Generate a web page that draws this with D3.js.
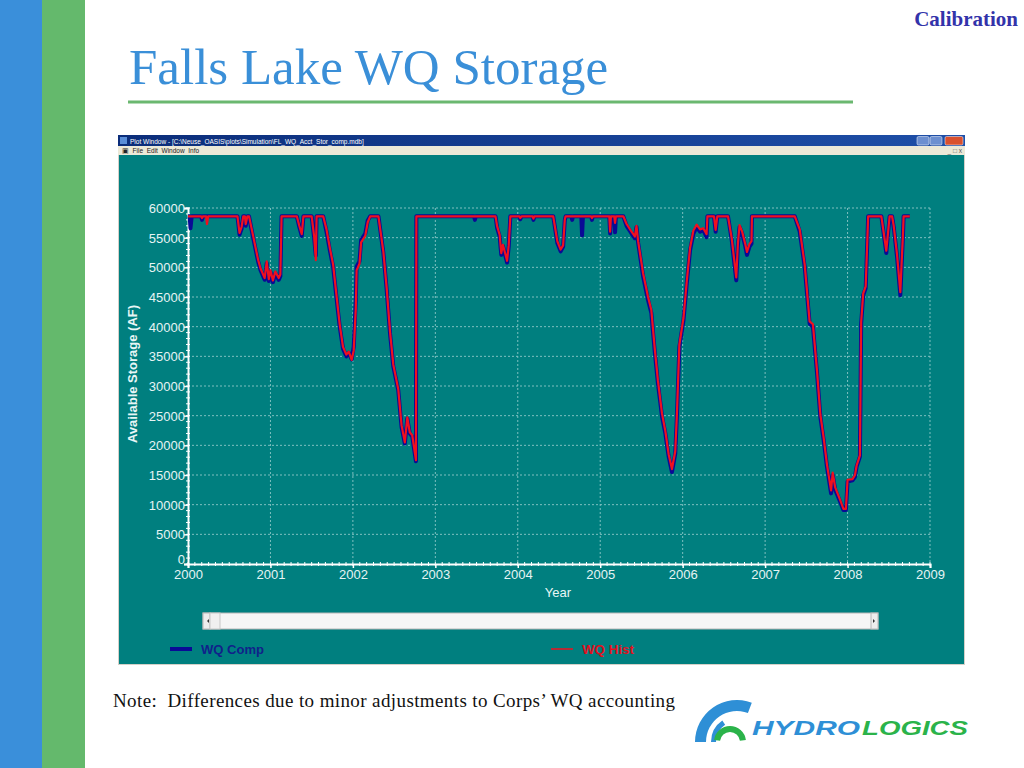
<!DOCTYPE html>
<html><head><meta charset="utf-8">
<script src="https://cdn.jsdelivr.net/npm/d3@7"></script>
<style>html,body{margin:0;padding:0;background:#fff;}svg{display:block;}</style>
</head><body>
<svg id="slide" width="1024" height="768"></svg>
<script>
// ---- data (decimal year, available storage AF) ----
const wqComp = [[2000.00,58600],[2000.02,58600],[2000.03,56600],[2000.045,58600],[2000.16,58600],[2000.17,58000],[2000.18,58600],[2000.60,58600],[2000.625,55500],[2000.65,56500],[2000.67,58600],[2000.69,58600],[2000.70,57000],[2000.72,58600],[2000.74,58600],[2000.79,55000],[2000.85,51000],[2000.88,49500],[2000.93,47900],[2000.955,50700],[2000.98,47700],[2001.00,49200],[2001.03,47500],[2001.06,49000],[2001.10,47900],[2001.12,48500],[2001.135,58600],[2001.32,58600],[2001.35,56800],[2001.38,55300],[2001.40,58600],[2001.50,58600],[2001.53,55000],[2001.55,52000],[2001.56,58600],[2001.64,58600],[2001.68,56000],[2001.72,52900],[2001.76,50100],[2001.80,45000],[2001.84,40000],[2001.88,36300],[2001.92,35000],[2001.95,35600],[2001.985,34500],[2002.01,36600],[2002.035,44500],[2002.045,50100],[2002.08,51000],[2002.10,54600],[2002.15,55700],[2002.18,57900],[2002.21,58600],[2002.31,58600],[2002.37,52400],[2002.41,46200],[2002.45,38900],[2002.49,33300],[2002.55,29300],[2002.59,23100],[2002.63,20300],[2002.66,24500],[2002.69,22000],[2002.72,21500],[2002.765,17300],[2002.77,58600],[2003.47,58600],[2003.48,58000],[2003.49,58600],[2003.73,58600],[2003.75,56600],[2003.78,55200],[2003.80,52100],[2003.82,53600],[2003.85,51900],[2003.87,50800],[2003.89,53500],[2003.91,58600],[2004.02,58600],[2004.03,58100],[2004.045,58600],[2004.18,58600],[2004.19,58000],[2004.20,58600],[2004.43,58600],[2004.48,54100],[2004.52,52700],[2004.55,53500],[2004.57,57900],[2004.58,58600],[2004.65,58600],[2004.66,58000],[2004.67,58600],[2004.77,58600],[2004.78,55400],[2004.79,58600],[2004.89,58600],[2004.90,58000],[2004.91,58600],[2005.11,58600],[2005.12,55700],[2005.13,58600],[2005.17,58600],[2005.18,55900],[2005.19,58600],[2005.28,58600],[2005.32,57000],[2005.38,55700],[2005.42,54900],[2005.44,56800],[2005.46,54100],[2005.52,48500],[2005.58,44500],[2005.62,42300],[2005.66,36000],[2005.70,30400],[2005.75,24800],[2005.79,22000],[2005.83,18100],[2005.87,15500],[2005.91,18600],[2005.93,24800],[2005.96,36600],[2006.01,41100],[2006.05,47300],[2006.09,52900],[2006.13,55700],[2006.17,56800],[2006.21,56000],[2006.25,56300],[2006.29,55100],[2006.30,58600],[2006.38,58600],[2006.40,56000],[2006.42,58600],[2006.55,58600],[2006.595,54600],[2006.65,47800],[2006.67,53700],[2006.69,56800],[2006.72,55800],[2006.76,53500],[2006.78,52100],[2006.81,53500],[2006.835,54000],[2006.84,58600],[2007.36,58600],[2007.42,56000],[2007.48,50100],[2007.54,40500],[2007.58,40000],[2007.63,32100],[2007.67,24800],[2007.71,20900],[2007.75,16400],[2007.80,11900],[2007.82,15000],[2007.85,12500],[2007.91,10500],[2007.95,9100],[2007.98,9100],[2008.00,13900],[2008.06,14100],[2008.09,14700],[2008.11,16400],[2008.15,18100],[2008.165,40500],[2008.19,45300],[2008.22,46500],[2008.25,58600],[2008.41,58600],[2008.47,52400],[2008.51,58600],[2008.54,58600],[2008.56,56800],[2008.60,51800],[2008.64,45300],[2008.655,50100],[2008.67,54600],[2008.68,58600],[2008.755,58600]];

const wqHist = [[2000.00,58600],[2000.16,58600],[2000.17,58300],[2000.18,58600],[2000.22,58600],[2000.23,57300],[2000.245,58600],[2000.60,58600],[2000.625,55800],[2000.65,56800],[2000.67,58600],[2000.69,58600],[2000.70,57300],[2000.72,58600],[2000.74,58600],[2000.79,55300],[2000.85,51300],[2000.88,49800],[2000.93,48200],[2000.955,51000],[2000.98,48000],[2001.00,49500],[2001.03,47800],[2001.06,49300],[2001.10,48200],[2001.12,48800],[2001.135,58600],[2001.32,58600],[2001.35,57000],[2001.38,55600],[2001.40,58600],[2001.50,58600],[2001.53,55200],[2001.55,51200],[2001.56,58600],[2001.64,58600],[2001.68,56400],[2001.72,53300],[2001.76,50500],[2001.80,45400],[2001.84,40400],[2001.88,36600],[2001.92,35300],[2001.95,35800],[2001.985,34400],[2002.01,36000],[2002.035,43000],[2002.045,49500],[2002.08,50600],[2002.10,54200],[2002.15,55300],[2002.18,57600],[2002.21,58600],[2002.31,58600],[2002.37,52600],[2002.41,46500],[2002.45,39200],[2002.49,33600],[2002.55,29500],[2002.59,23400],[2002.63,20500],[2002.66,24700],[2002.69,22200],[2002.72,21700],[2002.765,17500],[2002.77,58600],[2003.73,58600],[2003.75,56900],[2003.78,55500],[2003.80,52400],[2003.82,53800],[2003.85,52200],[2003.87,51100],[2003.89,53700],[2003.91,58600],[2004.02,58600],[2004.03,58300],[2004.045,58600],[2004.18,58600],[2004.19,58200],[2004.20,58600],[2004.43,58600],[2004.48,54400],[2004.52,53000],[2004.55,53700],[2004.57,58000],[2004.58,58600],[2004.89,58600],[2004.90,58300],[2004.91,58600],[2005.11,58600],[2005.12,56000],[2005.13,58600],[2005.17,58600],[2005.18,57500],[2005.19,58600],[2005.28,58600],[2005.32,57300],[2005.38,56000],[2005.42,55200],[2005.44,57000],[2005.46,54400],[2005.52,49000],[2005.58,45000],[2005.62,42800],[2005.66,36500],[2005.70,30900],[2005.75,25300],[2005.79,22400],[2005.83,18500],[2005.87,16000],[2005.91,19000],[2005.93,25200],[2005.96,37000],[2006.01,41500],[2006.05,47700],[2006.09,53300],[2006.13,56200],[2006.17,57200],[2006.21,56400],[2006.25,56600],[2006.29,55600],[2006.30,58600],[2006.38,58600],[2006.40,56300],[2006.42,58600],[2006.55,58600],[2006.595,54900],[2006.65,48300],[2006.67,54000],[2006.69,57100],[2006.72,56100],[2006.76,53900],[2006.78,52600],[2006.81,53900],[2006.835,54400],[2006.84,58600],[2007.36,58600],[2007.42,56400],[2007.48,50500],[2007.54,40900],[2007.58,40400],[2007.63,32500],[2007.67,25200],[2007.71,21300],[2007.75,16800],[2007.80,12400],[2007.82,15400],[2007.85,12900],[2007.91,10800],[2007.95,9300],[2007.98,9300],[2008.00,14200],[2008.06,14300],[2008.09,15000],[2008.11,16600],[2008.15,18300],[2008.165,40800],[2008.19,45600],[2008.22,46800],[2008.25,58600],[2008.41,58600],[2008.47,52800],[2008.51,58600],[2008.54,58600],[2008.56,57000],[2008.60,52200],[2008.64,45800],[2008.655,50500],[2008.67,54900],[2008.68,58600],[2008.755,58600]];

const xTicks = [2000,2001,2002,2003,2004,2005,2006,2007,2008,2009];
const yTicks = [0,5000,10000,15000,20000,25000,30000,35000,40000,45000,50000,55000,60000];
const seriesNames = ["WQ Comp","WQ Hist"];
const slideTitle = "Falls Lake WQ Storage";
const noteText = "Note:  Differences due to minor adjustments to Corps\u2019 WQ accounting";

// ---- slide ----
const svg = d3.select("#slide");
svg.append("rect").attr("x",0).attr("y",0).attr("width",1024).attr("height",768).attr("fill","#fff");
svg.append("rect").attr("x",0).attr("y",0).attr("width",42).attr("height",768).attr("fill","#3A8FDA");
svg.append("rect").attr("x",42).attr("y",0).attr("width",43).attr("height",768).attr("fill","#64B96C");

svg.append("text").attr("x",1018).attr("y",26).attr("text-anchor","end")
  .attr("font-family","Liberation Serif, Times New Roman, serif").attr("font-weight","bold")
  .attr("font-size",21).attr("fill","#3333AA").text("Calibration");

svg.append("text").attr("x",129).attr("y",84)
  .attr("font-family","Liberation Serif, Times New Roman, serif")
  .attr("font-size",51).attr("fill","#3A8FD8").text(slideTitle);
svg.append("line").attr("x1",128).attr("x2",853).attr("y1",102).attr("y2",102)
  .attr("stroke","#6BB870").attr("stroke-width",3);

// ---- window frame ----
const win = svg.append("g");
const grad = svg.append("defs").append("linearGradient").attr("id","tb").attr("x1",0).attr("x2",1);
grad.append("stop").attr("offset","0%").attr("stop-color","#0B2D7A");
grad.append("stop").attr("offset","100%").attr("stop-color","#1E4FA8");
win.append("rect").attr("x",118).attr("y",135).attr("width",847).attr("height",530).attr("fill","#D4D0C8");
win.append("rect").attr("x",118).attr("y",135).attr("width",847).attr("height",11).attr("fill","url(#tb)");
win.append("rect").attr("x",120).attr("y",137).attr("width",7).attr("height",7).attr("fill","#5A8ED8");
win.append("text").attr("x",130).attr("y",143.5).attr("font-family","Liberation Sans, Arial, sans-serif")
  .attr("font-size",6.5).attr("fill","#fff").text("Plot Window - [C:\\Neuse_OASIS\\plots\\Simulation\\FL_WQ_Acct_Stor_comp.mdb]");
[[917,"#6C8FD0"],[930,"#6C8FD0"],[945,"#D9502E"]].forEach(([x,c],i)=>{
  win.append("rect").attr("x",x).attr("y",136.5).attr("width",i==2?18:12).attr("height",8.5).attr("rx",1.5).attr("fill",c).attr("stroke","#fff").attr("stroke-width",0.5);
});
win.append("rect").attr("x",118).attr("y",146).attr("width",847).attr("height",9).attr("fill","#ECE9D8");
win.append("text").attr("x",122).attr("y",153).attr("font-family","Liberation Sans, Arial, sans-serif")
  .attr("font-size",6.5).attr("fill","#222").attr("xml:space","preserve").text("\u25A3  File  Edit  Window  Info");
win.append("text").attr("x",962).attr("y",153).attr("text-anchor","end").attr("font-family","Liberation Sans, Arial, sans-serif")
  .attr("font-size",6.5).attr("fill","#555").text("_ \u25A1 x");
win.append("rect").attr("x",119).attr("y",155).attr("width",845).attr("height",509).attr("fill","#007F7F");

// ---- chart ----
const x = d3.scaleLinear().domain([2000,2009]).range([188,930]);
const y = d3.scaleLinear().domain([0,60000]).range([564,208]);
const font = "Liberation Sans, Arial, sans-serif";

const grid = svg.append("g").attr("stroke","#A8D6D6").attr("stroke-width",1).attr("stroke-dasharray","2,2").attr("opacity",0.75);
grid.selectAll(".hg").data(yTicks.filter(d=>d>0)).join("line")
  .attr("x1",x(2000)).attr("x2",x(2009)).attr("y1",d=>y(d)).attr("y2",d=>y(d));
grid.selectAll(".vg").data(xTicks.filter(d=>d>2000)).join("line")
  .attr("x1",d=>x(d)).attr("x2",d=>x(d)).attr("y1",y(60000)).attr("y2",y(0));

// axes
const yAxis = d3.axisLeft(y).tickValues(yTicks).tickSize(4).tickFormat(d3.format("d"));
const gy = svg.append("g").attr("transform",`translate(${x(2000)},0)`).call(yAxis);
const xAxis = d3.axisBottom(x).tickValues(xTicks).tickSize(4).tickFormat(d3.format("d"));
const gx = svg.append("g").attr("transform",`translate(0,${y(0)})`).call(xAxis);
[gx,gy].forEach(g=>{
  g.select(".domain").attr("stroke","#fff").attr("stroke-width",2);
  g.selectAll(".tick line").attr("stroke","#fff").attr("stroke-width",1.5);
  g.selectAll(".tick text").attr("fill","#E6F4F4").attr("font-family",font).attr("font-size",13);
});
gy.selectAll(".tick text").attr("x",-3).attr("dy","0.35em");
gy.selectAll(".tick text").filter(d=>d===0).attr("y",-5);
gx.selectAll(".tick text").attr("y",5).attr("dy","0.78em");

// minor ticks
const minorY = d3.range(0,60001,1000);
svg.append("g").selectAll("line").data(minorY).join("line")
  .attr("x1",x(2000)-2).attr("x2",x(2000)+2).attr("y1",d=>y(d)).attr("y2",d=>y(d))
  .attr("stroke","#fff").attr("stroke-width",1);
const minorX = d3.range(0,9*12+1).map(i=>2000+i/12);
svg.append("g").selectAll("line").data(minorX).join("line")
  .attr("x1",d=>x(d)).attr("x2",d=>x(d)).attr("y1",y(0)-2).attr("y2",y(0)+2)
  .attr("stroke","#fff").attr("stroke-width",1);

svg.append("text").attr("transform",`translate(137,${374}) rotate(-90)`).attr("text-anchor","middle")
  .attr("font-family",font).attr("font-weight","bold").attr("font-size",13).attr("fill","#E8F6F6")
  .text("Available Storage (AF)");
svg.append("text").attr("x",558).attr("y",597).attr("text-anchor","middle")
  .attr("font-family",font).attr("font-size",13).attr("fill","#E8F6F6").text("Year");

// lines
const line = d3.line().x(d=>x(d[0])).y(d=>y(d[1]));
svg.append("path").datum(wqComp).attr("d",line).attr("fill","none")
  .attr("stroke","#0A0A96").attr("stroke-width",4).attr("stroke-linejoin","round");
svg.append("path").datum(wqHist).attr("d",line).attr("fill","none")
  .attr("stroke","#F0101E").attr("stroke-width",2.2).attr("stroke-linejoin","round");

// scrollbar
svg.append("rect").attr("x",203).attr("y",613).attr("width",675).attr("height",16).attr("fill","#F6F6F6").attr("stroke","#B8B8B8").attr("stroke-width",1);
svg.append("rect").attr("x",203).attr("y",613).attr("width",7).attr("height",16).attr("fill","#EDEDED").attr("stroke","#B8B8B8");
svg.append("rect").attr("x",210).attr("y",613).attr("width",10).attr("height",16).attr("fill","#F0F0F0").attr("stroke","#C8C8C8");
svg.append("rect").attr("x",871).attr("y",613).attr("width",7).attr("height",16).attr("fill","#EDEDED").attr("stroke","#B8B8B8");
svg.append("path").attr("d","M207,621 l2,-2 v4 z").attr("fill","#333");
svg.append("path").attr("d","M875,621 l-2,-2 v4 z").attr("fill","#333");

// legend
const legend = [{name:seriesNames[0],x:170,color:"#0A0A96",w:4,tc:"#10228A",tl:63},{name:seriesNames[1],x:551,color:"#F0101E",w:1.5,tc:"#E01020",tl:52}];
legend.forEach(l=>{
  svg.append("line").attr("x1",l.x).attr("x2",l.x+22).attr("y1",649).attr("y2",649).attr("stroke",l.color).attr("stroke-width",l.w);
  svg.append("text").attr("x",l.x+31).attr("y",654).attr("font-family",font).attr("font-weight","bold")
    .attr("font-size",13).attr("fill",l.tc).attr("textLength",l.tl).attr("lengthAdjust","spacingAndGlyphs").text(l.name);
});

// note
svg.append("text").attr("x",113).attr("y",707).attr("font-family","Liberation Serif, Times New Roman, serif")
  .attr("font-size",19).attr("fill","#111").attr("xml:space","preserve")
  .attr("textLength",562).attr("lengthAdjust","spacing").text(noteText);

// logo
const logo = svg.append("g");
const arc = d3.arc();
logo.append("path").attr("transform","translate(737,742)")
  .attr("d",arc({innerRadius:31,outerRadius:42,startAngle:-Math.PI/2,endAngle:0.36})).attr("fill","#2E8FD6");
logo.append("path").attr("transform","translate(737,742)")
  .attr("d",arc({innerRadius:21,outerRadius:26,startAngle:-Math.PI/2,endAngle:-0.6})).attr("fill","#2E8FD6");
logo.append("path").attr("transform","translate(730,742)")
  .attr("d",arc({innerRadius:10,outerRadius:16,startAngle:-1.45,endAngle:1.45})).attr("fill","#2BB34A");
logo.append("text").attr("x",752).attr("y",735).attr("font-family",font).attr("font-weight","bold").attr("font-style","italic")
  .attr("font-size",21).attr("fill","#2E8FD6").attr("textLength",108).attr("lengthAdjust","spacingAndGlyphs").text("HYDRO");
logo.append("text").attr("x",862).attr("y",735).attr("font-family",font).attr("font-weight","bold").attr("font-style","italic")
  .attr("font-size",21).attr("fill","#2BB34A").attr("textLength",106).attr("lengthAdjust","spacingAndGlyphs").text("LOGICS");
</script>
</body></html>
